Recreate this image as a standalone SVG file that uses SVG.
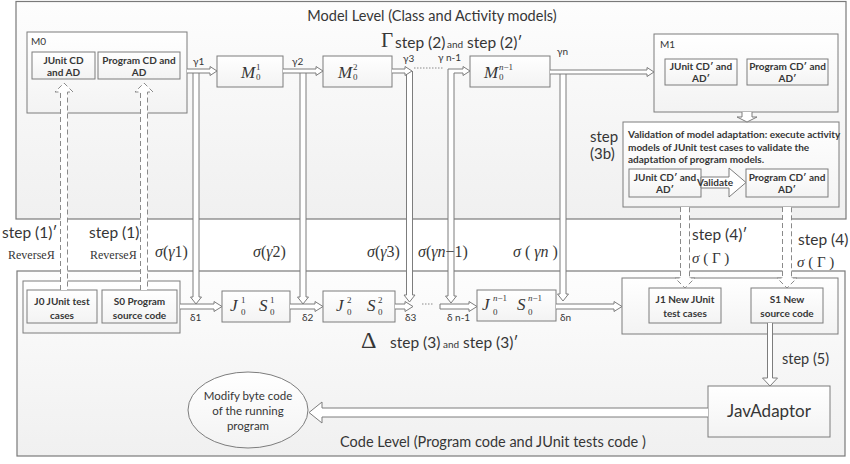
<svg xmlns="http://www.w3.org/2000/svg" width="850" height="464" viewBox="0 0 850 464">
<defs>
<linearGradient id="fr" x1="0" y1="0" x2="0" y2="1">
<stop offset="0" stop-color="#fdfdfd"/><stop offset="1" stop-color="#f0f0f0"/>
</linearGradient>
<linearGradient id="bx" x1="0" y1="0" x2="0" y2="1">
<stop offset="0" stop-color="#ffffff"/><stop offset="1" stop-color="#f3f3f3"/>
</linearGradient>
<style>
.frame{fill:url(#fr);stroke:#7a7a7a;stroke-width:1.2}
.box{fill:url(#bx);stroke:#7d7d7d;stroke-width:1}
.arr{fill:#ffffff;stroke:#7d7d7d;stroke-width:1}
.dash{fill:#ffffff;stroke:#8a8a8a;stroke-width:1;stroke-dasharray:5 3}
.dot{fill:none;stroke:#8a8a8a;stroke-width:1;stroke-dasharray:1.5 1.5}
text{fill:#363636;font-family:Lato,"Liberation Sans",sans-serif}
.b{font-weight:bold;font-size:10px}
.t{font-size:14.5px}
.lbl{font-size:15.5px}
.sm{font-size:10px}
.m{font-family:"Liberation Serif","DejaVu Serif",serif}
.mi{font-family:"Liberation Serif","DejaVu Serif",serif;font-style:italic}
.c{text-anchor:middle}
</style>
</defs>
<rect x="0" y="0" width="850" height="464" fill="#ffffff"/>
<g id="model-level">
<rect class="frame" x="16" y="1.5" width="830" height="217.5"/>
<text class="t c" x="432" y="21">Model Level (Class and Activity models)</text>
</g>
<g id="code-level">
<rect class="frame" x="17" y="271" width="828" height="185"/>
<text class="t" x="340" y="447">Code Level (Program code and JUnit tests code )</text>
</g>

<g id="M0">
<rect class="box" x="27" y="32" width="160" height="81"/>
<text class="sm" x="31" y="45">M0</text>
<rect class="box" x="32" y="52" width="63" height="27"/>
<text class="b c" x="63.5" y="64">JUnit CD</text>
<text class="b c" x="63.5" y="76">and AD</text>
<rect class="box" x="98" y="52" width="82" height="27"/>
<text class="b c" x="139" y="64">Program CD and</text>
<text class="b c" x="139" y="76">AD</text>
</g>
<g id="M01">
<rect class="box" x="217" y="56" width="66" height="31"/>
<text class="mi" x="241" y="78" font-size="17">M</text>
<text class="m" x="256" y="70" font-size="9">1</text>
<text class="m" x="256" y="80" font-size="9">0</text>
</g>
<g id="M02">
<rect class="box" x="323" y="56" width="69" height="31"/>
<text class="mi" x="338" y="78" font-size="17">M</text>
<text class="m" x="353" y="70" font-size="9">2</text>
<text class="m" x="353" y="80" font-size="9">0</text>
</g>
<g id="M0n1">
<rect class="box" x="470" y="56" width="80" height="31"/>
<text class="mi" x="484" y="78" font-size="17">M</text>
<text class="m" x="499" y="70" font-size="9"><tspan font-style="italic">n</tspan>−1</text>
<text class="m" x="499" y="80" font-size="9">0</text>
</g>
<g id="M1">
<rect class="box" x="654" y="34" width="184" height="78"/>
<text class="sm" x="660" y="48">M1</text>
<rect class="box" x="665" y="59" width="72" height="26"/>
<text class="b c" x="701" y="70">JUnit CD′ and</text>
<text class="b c" x="701" y="82">AD′</text>
<rect class="box" x="747" y="59" width="81" height="26"/>
<text class="b c" x="787.5" y="70">Program CD′ and</text>
<text class="b c" x="787.5" y="82">AD′</text>
</g>
<g id="validation">
<rect class="box" x="623" y="122" width="216" height="85"/>
<text class="b" x="628" y="138" font-size="9.5">Validation of model adaptation: execute activity</text>
<text class="b" x="628" y="151" font-size="9.5">models of JUnit test cases to validate the</text>
<text class="b" x="628" y="163" font-size="9.5">adaptation of program models.</text>
<rect class="box" x="629" y="169" width="72" height="28"/>
<text class="b c" x="665" y="181">JUnit CD′ and</text>
<text class="b c" x="665" y="193">AD′</text>
<rect class="box" x="746" y="169" width="82" height="28"/>
<text class="b c" x="787" y="181">Program CD′ and</text>
<text class="b c" x="787" y="193">AD′</text>
<path class="arr" d="M701 177 H729 V168 L746 182.5 L729 197 V188 H701 Z"/>
<text class="b c" x="715" y="185.5" font-size="8.5">Validate</text>
</g>
<g id="J0S0">
<rect class="box" x="23" y="281" width="157" height="52"/>
<rect class="box" x="27" y="290" width="70" height="33"/>
<text class="b c" x="62" y="305">J0 JUnit test</text>
<text class="b c" x="62" y="319">cases</text>
<rect class="box" x="102" y="290" width="75" height="33"/>
<text class="b c" x="139.5" y="305">S0  Program</text>
<text class="b c" x="139.5" y="319">source code</text>
</g>
<g id="J01S01">
<rect class="box" x="222" y="291" width="68" height="31"/>
<text class="mi" x="230" y="311" font-size="17">J</text>
<text class="m" x="241" y="303" font-size="9">1</text>
<text class="m" x="241" y="315" font-size="9">0</text>
<text class="mi" x="259" y="311" font-size="17">S</text>
<text class="m" x="270" y="303" font-size="9">1</text>
<text class="m" x="270" y="315" font-size="9">0</text>
</g>
<g id="J02S02">
<rect class="box" x="323" y="291" width="72" height="31"/>
<text class="mi" x="336" y="311" font-size="17">J</text>
<text class="m" x="347" y="303" font-size="9">2</text>
<text class="m" x="347" y="315" font-size="9">0</text>
<text class="mi" x="367" y="311" font-size="17">S</text>
<text class="m" x="378" y="303" font-size="9">2</text>
<text class="m" x="378" y="315" font-size="9">0</text>
</g>
<g id="J0n1S0n1">
<rect class="box" x="477" y="290" width="79" height="31"/>
<text class="mi" x="482" y="310" font-size="17">J</text>
<text class="m" x="493" y="301" font-size="9"><tspan font-style="italic">n</tspan>−1</text>
<text class="m" x="493" y="315" font-size="9">0</text>
<text class="mi" x="517" y="310" font-size="17">S</text>
<text class="m" x="528" y="301" font-size="9"><tspan font-style="italic">n</tspan>−1</text>
<text class="m" x="528" y="315" font-size="9">0</text>
</g>
<g id="J1S1">
<rect class="box" x="622" y="278" width="216" height="56"/>
<rect class="box" x="649" y="288" width="72" height="35"/>
<text class="b c" x="685" y="303">J1 New JUnit</text>
<text class="b c" x="685" y="317">test cases</text>
<rect class="box" x="751" y="288" width="72" height="35"/>
<text class="b c" x="787" y="303">S1 New</text>
<text class="b c" x="787" y="317">source code</text>
</g>
<g id="javadaptor">
<rect class="box" x="708" y="386" width="122" height="51"/>
<text class="c" x="769" y="417" font-size="17">JavAdaptor</text>
</g>
<g id="modify">
<ellipse class="box" cx="248" cy="410" rx="60" ry="38"/>
<text class="c" x="248" y="400" font-size="11.5">Modify byte code</text>
<text class="c" x="248" y="415" font-size="11.5">of the running</text>
<text class="c" x="248" y="430" font-size="11.5">program</text>
</g>

<g id="connectors">
<path class="arr" d="M193 71 V297 H190.5 L196 304 L201.5 297 H199 V71"/>
<path class="arr" d="M187 69 H210 V66.5 L217 71 L210 75.5 V73 H187"/>
<path class="arr" d="M300 71 V297 H297.5 L303 304 L308.5 297 H306 V71"/>
<path class="arr" d="M283 69 H316 V66.5 L323 71 L316 75.5 V73 H283"/>
<path class="arr" d="M406.5 71 V295 H404 L409.5 302 L415 295 H412.5 V71"/>
<path class="arr" d="M392 69 H405 V66.5 L412 71 L405 75.5 V73 H392"/>
<path class="dot" d="M414 68 H443"/>
<path class="arr" d="M463 73 H454 V296 H456.5 L451 303 L445.5 296 H448 V69 H463 V66.5 L470 71 L463 75.5 Z"/>
<path class="arr" d="M560 72 V294 H557.5 L563 301 L568.5 294 H566 V72"/>
<path class="arr" d="M550 70 H647 V67.5 L654 72 L647 76.5 V74 H550"/>
<path class="arr" d="M180 304 H214 V301.5 L222 306.5 L214 311.5 V309 H180"/>
<path class="arr" d="M290 304 H315 V301.5 L323 306.5 L315 311.5 V309 H290"/>
<path class="arr" d="M395 304 H405 V301.5 L413 306.5 L405 311.5 V309 H395"/>
<path class="dot" d="M422 304 H434"/>
<path class="arr" d="M440 304 H469 V301.5 L477 306.5 L469 311.5 V309 H440 Z"/>
<path class="arr" d="M556 304 H614 V301.5 L622 306.5 L614 311.5 V309 H556"/>
<path class="arr" d="M742 112 V117 H737 L747 122 L757 117 H752 V112"/>
<path class="arr" d="M767.5 323 V378 H762.5 L770 386 L777.5 378 H772.5 V323"/>
<path class="arr" d="M708 408 H322 V402 L309 412.5 L322 423 V417 H708"/>
<path class="dash" d="M60.5 290 V92 H55 L64 83 L73 92 H67.5 V290"/>
<path class="dash" d="M140.5 290 V92 H135 L144 83 L153 92 H147.5 V290"/>
<path class="dash" d="M680.5 207 V278 H675 L685 288 L695 278 H689.5 V207"/>
<path class="dash" d="M782.5 207 V278 H777 L787 288 L797 278 H791.5 V207"/>
</g>

<g id="labels">
<text class="sm" x="193" y="65">γ1</text>
<text class="sm" x="292" y="65">γ2</text>
<text class="sm" x="403" y="62">γ3</text>
<text class="sm" x="438" y="61">γ n-1</text>
<text class="sm" x="557" y="55">γn</text>
<text class="sm" x="190" y="321" font-size="9">δ1</text>
<text class="sm" x="302" y="321" font-size="9">δ2</text>
<text class="sm" x="405" y="321" font-size="9">δ3</text>
<text class="sm" x="447" y="321" font-size="9">δ n-1</text>
<text class="sm" x="560" y="321" font-size="9">δn</text>
<text class="m" x="381" y="47" font-size="21">Γ</text>
<text class="lbl" x="395" y="48">step (2)</text>
<text x="447" y="48" font-size="10">and</text>
<text class="lbl" x="467" y="48">step (2)′</text>
<text class="m" x="361" y="348" font-size="24">Δ</text>
<text class="lbl" x="390" y="348">step (3)</text>
<text x="443" y="348" font-size="10">and</text>
<text class="lbl" x="463" y="348">step (3)′</text>
<text class="lbl" x="2" y="238">step (1)′</text>
<text class="m" x="8" y="259" font-size="12">ReverseЯ</text>
<text class="lbl" x="89" y="238">step (1)</text>
<text class="m" x="90" y="259" font-size="12">ReverseЯ</text>
<text class="m" x="155" y="257" font-size="16"><tspan font-style="italic">σ</tspan>(<tspan font-style="italic">γ</tspan>1)</text>
<text class="m" x="253" y="257" font-size="16"><tspan font-style="italic">σ</tspan>(<tspan font-style="italic">γ</tspan>2)</text>
<text class="m" x="367" y="257" font-size="16"><tspan font-style="italic">σ</tspan>(<tspan font-style="italic">γ</tspan>3)</text>
<text class="m" x="418" y="257" font-size="16"><tspan font-style="italic">σ</tspan>(<tspan font-style="italic">γn</tspan>−1)</text>
<text class="m" x="513" y="257" font-size="16"><tspan font-style="italic">σ</tspan> ( <tspan font-style="italic">γn</tspan> )</text>
<text class="lbl" x="692" y="240">step (4)′</text>
<text class="m" x="692" y="263" font-size="15"><tspan font-style="italic">σ</tspan> ( Γ )</text>
<text class="lbl" x="798" y="245">step (4)</text>
<text class="m" x="797" y="267" font-size="15"><tspan font-style="italic">σ</tspan> ( Γ )</text>
<text x="590" y="142" font-size="15">step</text>
<text x="590" y="159" font-size="15">(3b)</text>
<text x="782" y="364" font-size="14.5">step (5)</text>
</g>
</svg>
